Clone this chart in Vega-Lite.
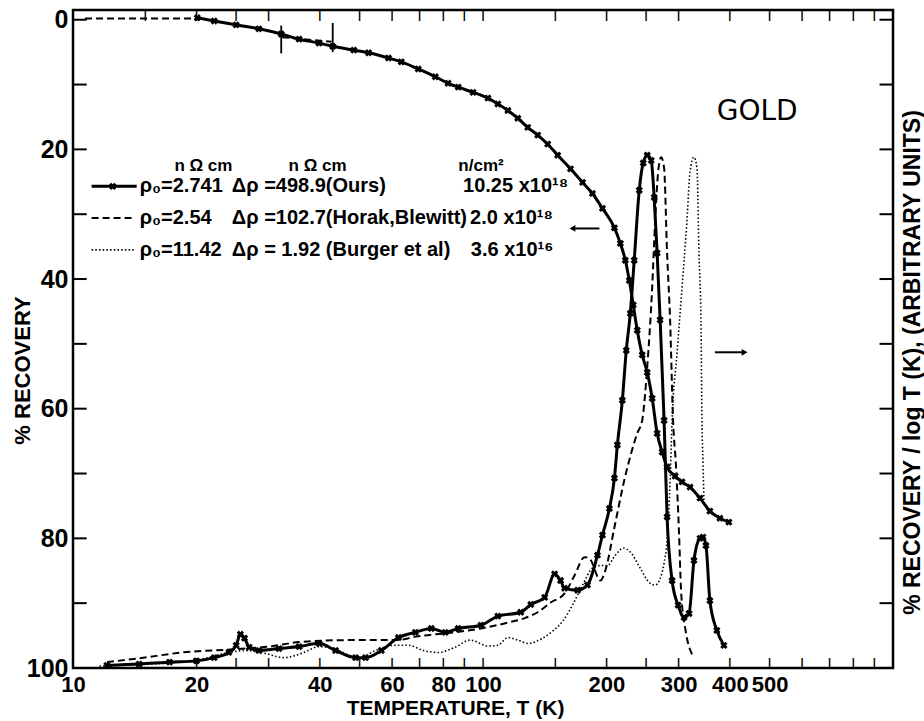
{
  "$schema": "https://vega.github.io/schema/vega-lite/v6.json",
  "width": 820,
  "height": 658,
  "autosize": {"type": "none"},
  "padding": {"left": 73, "top": 10, "right": 31, "bottom": 53},
  "background": "white",
  "config": {
    "view": {"stroke": "black", "strokeWidth": 2.5},
    "font": "Liberation Sans",
    "axis": {
      "grid": false,
      "domain": false,
      "ticks": false,
      "labelColor": "black",
      "titleColor": "black",
      "labelFont": "Liberation Sans",
      "labelFontWeight": "bold",
      "titleFont": "Liberation Sans",
      "titleFontWeight": "bold",
      "labelOverlap": false,
      "labelBound": false,
      "labelFlush": false
    }
  },
  "datasets": {
    "curves": [
      {"curve": "rec_ours", "source": "Ours", "T": 20.1, "pct": -0.3},
      {"curve": "rec_ours", "source": "Ours", "T": 22.1, "pct": 0.2},
      {"curve": "rec_ours", "source": "Ours", "T": 25.0, "pct": 0.8},
      {"curve": "rec_ours", "source": "Ours", "T": 28.4, "pct": 1.4},
      {"curve": "rec_ours", "source": "Ours", "T": 32.2, "pct": 2.2},
      {"curve": "rec_ours", "source": "Ours", "T": 35.6, "pct": 3.0},
      {"curve": "rec_ours", "source": "Ours", "T": 39.8, "pct": 3.6},
      {"curve": "rec_ours", "source": "Ours", "T": 43.0, "pct": 4.1},
      {"curve": "rec_ours", "source": "Ours", "T": 48.4, "pct": 4.7},
      {"curve": "rec_ours", "source": "Ours", "T": 52.6, "pct": 5.1},
      {"curve": "rec_ours", "source": "Ours", "T": 58.8, "pct": 5.9},
      {"curve": "rec_ours", "source": "Ours", "T": 63.2, "pct": 6.5},
      {"curve": "rec_ours", "source": "Ours", "T": 69.5, "pct": 7.6},
      {"curve": "rec_ours", "source": "Ours", "T": 76.5, "pct": 8.8},
      {"curve": "rec_ours", "source": "Ours", "T": 82.2, "pct": 9.8},
      {"curve": "rec_ours", "source": "Ours", "T": 87.0, "pct": 10.4},
      {"curve": "rec_ours", "source": "Ours", "T": 94.6, "pct": 11.2},
      {"curve": "rec_ours", "source": "Ours", "T": 102.8, "pct": 12.1},
      {"curve": "rec_ours", "source": "Ours", "T": 108.7, "pct": 13.0},
      {"curve": "rec_ours", "source": "Ours", "T": 115.0, "pct": 14.0},
      {"curve": "rec_ours", "source": "Ours", "T": 121.6, "pct": 15.2},
      {"curve": "rec_ours", "source": "Ours", "T": 128.6, "pct": 16.6},
      {"curve": "rec_ours", "source": "Ours", "T": 136.0, "pct": 17.8},
      {"curve": "rec_ours", "source": "Ours", "T": 143.8, "pct": 19.2},
      {"curve": "rec_ours", "source": "Ours", "T": 152.1, "pct": 20.9},
      {"curve": "rec_ours", "source": "Ours", "T": 163.5, "pct": 23.0},
      {"curve": "rec_ours", "source": "Ours", "T": 174.9, "pct": 25.1},
      {"curve": "rec_ours", "source": "Ours", "T": 184.9, "pct": 26.8},
      {"curve": "rec_ours", "source": "Ours", "T": 195.6, "pct": 29.1},
      {"curve": "rec_ours", "source": "Ours", "T": 209.2, "pct": 32.1},
      {"curve": "rec_ours", "source": "Ours", "T": 216.3, "pct": 34.5},
      {"curve": "rec_ours", "source": "Ours", "T": 222.4, "pct": 37.1},
      {"curve": "rec_ours", "source": "Ours", "T": 227.4, "pct": 40.2},
      {"curve": "rec_ours", "source": "Ours", "T": 232.5, "pct": 44.0},
      {"curve": "rec_ours", "source": "Ours", "T": 237.8, "pct": 47.9},
      {"curve": "rec_ours", "source": "Ours", "T": 244.5, "pct": 51.7},
      {"curve": "rec_ours", "source": "Ours", "T": 251.5, "pct": 54.4},
      {"curve": "rec_ours", "source": "Ours", "T": 258.6, "pct": 58.4},
      {"curve": "rec_ours", "source": "Ours", "T": 265.9, "pct": 63.8},
      {"curve": "rec_ours", "source": "Ours", "T": 273.5, "pct": 66.7},
      {"curve": "rec_ours", "source": "Ours", "T": 281.2, "pct": 69.0},
      {"curve": "rec_ours", "source": "Ours", "T": 294.1, "pct": 70.4},
      {"curve": "rec_ours", "source": "Ours", "T": 305.8, "pct": 71.3},
      {"curve": "rec_ours", "source": "Ours", "T": 319.8, "pct": 72.1},
      {"curve": "rec_ours", "source": "Ours", "T": 338.2, "pct": 73.8},
      {"curve": "rec_ours", "source": "Ours", "T": 357.6, "pct": 75.8},
      {"curve": "rec_ours", "source": "Ours", "T": 378.3, "pct": 76.9},
      {"curve": "rec_ours", "source": "Ours", "T": 397.8, "pct": 77.5},

      {"curve": "rate_ours", "source": "Ours", "T": 12.1, "pct": 99.6},
      {"curve": "rate_ours", "source": "Ours", "T": 14.5, "pct": 99.4},
      {"curve": "rate_ours", "source": "Ours", "T": 17.2, "pct": 99.1},
      {"curve": "rate_ours", "source": "Ours", "T": 20.0, "pct": 98.9},
      {"curve": "rate_ours", "source": "Ours", "T": 22.1, "pct": 98.4},
      {"curve": "rate_ours", "source": "Ours", "T": 24.0, "pct": 97.6},
      {"curve": "rate_ours", "source": "Ours", "T": 25.0, "pct": 96.5},
      {"curve": "rate_ours", "source": "Ours", "T": 25.6, "pct": 94.8},
      {"curve": "rate_ours", "source": "Ours", "T": 26.2, "pct": 95.4},
      {"curve": "rate_ours", "source": "Ours", "T": 26.9, "pct": 96.8},
      {"curve": "rate_ours", "source": "Ours", "T": 28.4, "pct": 97.3},
      {"curve": "rate_ours", "source": "Ours", "T": 31.8, "pct": 97.0},
      {"curve": "rate_ours", "source": "Ours", "T": 35.6, "pct": 96.7},
      {"curve": "rate_ours", "source": "Ours", "T": 39.8, "pct": 96.2},
      {"curve": "rate_ours", "source": "Ours", "T": 43.7, "pct": 97.3},
      {"curve": "rate_ours", "source": "Ours", "T": 48.9, "pct": 98.4},
      {"curve": "rate_ours", "source": "Ours", "T": 51.7, "pct": 98.4},
      {"curve": "rate_ours", "source": "Ours", "T": 56.5, "pct": 97.3},
      {"curve": "rate_ours", "source": "Ours", "T": 62.2, "pct": 95.3},
      {"curve": "rate_ours", "source": "Ours", "T": 68.4, "pct": 94.5},
      {"curve": "rate_ours", "source": "Ours", "T": 74.8, "pct": 93.9},
      {"curve": "rate_ours", "source": "Ours", "T": 80.9, "pct": 94.5},
      {"curve": "rate_ours", "source": "Ours", "T": 87.0, "pct": 93.9},
      {"curve": "rate_ours", "source": "Ours", "T": 98.9, "pct": 93.4},
      {"curve": "rate_ours", "source": "Ours", "T": 108.7, "pct": 92.0},
      {"curve": "rate_ours", "source": "Ours", "T": 123.6, "pct": 91.4},
      {"curve": "rate_ours", "source": "Ours", "T": 130.8, "pct": 90.2},
      {"curve": "rate_ours", "source": "Ours", "T": 141.4, "pct": 89.1},
      {"curve": "rate_ours", "source": "Ours", "T": 149.5, "pct": 85.5},
      {"curve": "rate_ours", "source": "Ours", "T": 154.6, "pct": 86.5},
      {"curve": "rate_ours", "source": "Ours", "T": 158.1, "pct": 87.7},
      {"curve": "rate_ours", "source": "Ours", "T": 170.1, "pct": 88.0},
      {"curve": "rate_ours", "source": "Ours", "T": 179.8, "pct": 87.2},
      {"curve": "rate_ours", "source": "Ours", "T": 190.2, "pct": 82.6},
      {"curve": "rate_ours", "source": "Ours", "T": 195.6, "pct": 79.5},
      {"curve": "rate_ours", "source": "Ours", "T": 203.4, "pct": 75.4},
      {"curve": "rate_ours", "source": "Ours", "T": 209.2, "pct": 70.7},
      {"curve": "rate_ours", "source": "Ours", "T": 212.7, "pct": 65.6},
      {"curve": "rate_ours", "source": "Ours", "T": 218.7, "pct": 58.7},
      {"curve": "rate_ours", "source": "Ours", "T": 223.6, "pct": 51.0},
      {"curve": "rate_ours", "source": "Ours", "T": 228.7, "pct": 45.3},
      {"curve": "rate_ours", "source": "Ours", "T": 233.8, "pct": 37.1},
      {"curve": "rate_ours", "source": "Ours", "T": 240.5, "pct": 26.3},
      {"curve": "rate_ours", "source": "Ours", "T": 245.9, "pct": 22.1},
      {"curve": "rate_ours", "source": "Ours", "T": 251.5, "pct": 20.9},
      {"curve": "rate_ours", "source": "Ours", "T": 257.2, "pct": 21.7},
      {"curve": "rate_ours", "source": "Ours", "T": 261.5, "pct": 27.4},
      {"curve": "rate_ours", "source": "Ours", "T": 265.9, "pct": 36.0},
      {"curve": "rate_ours", "source": "Ours", "T": 270.4, "pct": 46.3},
      {"curve": "rate_ours", "source": "Ours", "T": 276.5, "pct": 61.8},
      {"curve": "rate_ours", "source": "Ours", "T": 281.2, "pct": 76.7},
      {"curve": "rate_ours", "source": "Ours", "T": 289.2, "pct": 86.5},
      {"curve": "rate_ours", "source": "Ours", "T": 299.1, "pct": 90.3},
      {"curve": "rate_ours", "source": "Ours", "T": 309.3, "pct": 92.2},
      {"curve": "rate_ours", "source": "Ours", "T": 318.1, "pct": 91.6},
      {"curve": "rate_ours", "source": "Ours", "T": 327.0, "pct": 83.4},
      {"curve": "rate_ours", "source": "Ours", "T": 338.2, "pct": 80.0},
      {"curve": "rate_ours", "source": "Ours", "T": 343.9, "pct": 79.8},
      {"curve": "rate_ours", "source": "Ours", "T": 349.8, "pct": 81.1},
      {"curve": "rate_ours", "source": "Ours", "T": 357.6, "pct": 89.6},
      {"curve": "rate_ours", "source": "Ours", "T": 371.9, "pct": 94.2},
      {"curve": "rate_ours", "source": "Ours", "T": 386.8, "pct": 96.5},

      {"curve": "leg_ours", "source": "Ours", "T": 11.1, "pct": 25.7},
      {"curve": "leg_ours", "source": "Ours", "T": 12.5, "pct": 25.7},
      {"curve": "leg_ours", "source": "Ours", "T": 14.3, "pct": 25.7},

      {"curve": "rec_horak_a", "source": "Horak", "T": 10.7, "pct": -0.2},
      {"curve": "rec_horak_a", "source": "Horak", "T": 20.0, "pct": -0.2},
      {"curve": "rec_horak_b", "source": "Horak", "T": 32.4, "pct": 2.7},
      {"curve": "rec_horak_b", "source": "Horak", "T": 42.7, "pct": 3.4},

      {"curve": "rate_horak", "source": "Horak", "T": 12.1, "pct": 99.1},
      {"curve": "rate_horak", "source": "Horak", "T": 14.5, "pct": 98.5},
      {"curve": "rate_horak", "source": "Horak", "T": 18.5, "pct": 97.6},
      {"curve": "rate_horak", "source": "Horak", "T": 25.0, "pct": 97.1},
      {"curve": "rate_horak", "source": "Horak", "T": 30.1, "pct": 96.7},
      {"curve": "rate_horak", "source": "Horak", "T": 35.6, "pct": 96.0},
      {"curve": "rate_horak", "source": "Horak", "T": 47.0, "pct": 95.7},
      {"curve": "rate_horak", "source": "Horak", "T": 61.2, "pct": 95.7},
      {"curve": "rate_horak", "source": "Horak", "T": 69.5, "pct": 95.1},
      {"curve": "rate_horak", "source": "Horak", "T": 82.2, "pct": 94.6},
      {"curve": "rate_horak", "source": "Horak", "T": 98.9, "pct": 93.9},
      {"curve": "rate_horak", "source": "Horak", "T": 115.0, "pct": 93.0},
      {"curve": "rate_horak", "source": "Horak", "T": 126.5, "pct": 92.3},
      {"curve": "rate_horak", "source": "Horak", "T": 136.0, "pct": 91.4},
      {"curve": "rate_horak", "source": "Horak", "T": 146.2, "pct": 89.9},
      {"curve": "rate_horak", "source": "Horak", "T": 158.1, "pct": 88.5},
      {"curve": "rate_horak", "source": "Horak", "T": 167.3, "pct": 85.7},
      {"curve": "rate_horak", "source": "Horak", "T": 176.9, "pct": 82.9},
      {"curve": "rate_horak", "source": "Horak", "T": 181.8, "pct": 83.1},
      {"curve": "rate_horak", "source": "Horak", "T": 193.4, "pct": 86.5},
      {"curve": "rate_horak", "source": "Horak", "T": 198.9, "pct": 84.9},
      {"curve": "rate_horak", "source": "Horak", "T": 209.2, "pct": 78.3},
      {"curve": "rate_horak", "source": "Horak", "T": 221.2, "pct": 71.0},
      {"curve": "rate_horak", "source": "Horak", "T": 237.8, "pct": 63.8},
      {"curve": "rate_horak", "source": "Horak", "T": 244.5, "pct": 61.8},
      {"curve": "rate_horak", "source": "Horak", "T": 251.5, "pct": 53.6},
      {"curve": "rate_horak", "source": "Horak", "T": 258.6, "pct": 41.3},
      {"curve": "rate_horak", "source": "Horak", "T": 263.0, "pct": 30.9},
      {"curve": "rate_horak", "source": "Horak", "T": 267.4, "pct": 23.5},
      {"curve": "rate_horak", "source": "Horak", "T": 271.9, "pct": 21.2},
      {"curve": "rate_horak", "source": "Horak", "T": 276.5, "pct": 22.9},
      {"curve": "rate_horak", "source": "Horak", "T": 281.2, "pct": 36.0},
      {"curve": "rate_horak", "source": "Horak", "T": 286.0, "pct": 46.4},
      {"curve": "rate_horak", "source": "Horak", "T": 290.8, "pct": 61.8},
      {"curve": "rate_horak", "source": "Horak", "T": 295.7, "pct": 69.0},
      {"curve": "rate_horak", "source": "Horak", "T": 300.7, "pct": 79.2},
      {"curve": "rate_horak", "source": "Horak", "T": 304.1, "pct": 88.0},
      {"curve": "rate_horak", "source": "Horak", "T": 311.0, "pct": 93.7},
      {"curve": "rate_horak", "source": "Horak", "T": 327.0, "pct": 98.4},

      {"curve": "leg_horak", "source": "Horak", "T": 11.1, "pct": 30.6},
      {"curve": "leg_horak", "source": "Horak", "T": 14.1, "pct": 30.6},

      {"curve": "rate_burger", "source": "Burger", "T": 11.6, "pct": 99.7},
      {"curve": "rate_burger", "source": "Burger", "T": 15.4, "pct": 99.4},
      {"curve": "rate_burger", "source": "Burger", "T": 20.0, "pct": 98.8},
      {"curve": "rate_burger", "source": "Burger", "T": 24.0, "pct": 97.6},
      {"curve": "rate_burger", "source": "Burger", "T": 26.2, "pct": 97.3},
      {"curve": "rate_burger", "source": "Burger", "T": 29.2, "pct": 97.7},
      {"curve": "rate_burger", "source": "Burger", "T": 32.7, "pct": 98.4},
      {"curve": "rate_burger", "source": "Burger", "T": 36.6, "pct": 97.6},
      {"curve": "rate_burger", "source": "Burger", "T": 39.8, "pct": 96.7},
      {"curve": "rate_burger", "source": "Burger", "T": 43.2, "pct": 97.0},
      {"curve": "rate_burger", "source": "Burger", "T": 47.0, "pct": 98.0},
      {"curve": "rate_burger", "source": "Burger", "T": 49.7, "pct": 98.5},
      {"curve": "rate_burger", "source": "Burger", "T": 54.7, "pct": 97.3},
      {"curve": "rate_burger", "source": "Burger", "T": 60.5, "pct": 96.5},
      {"curve": "rate_burger", "source": "Burger", "T": 65.8, "pct": 96.5},
      {"curve": "rate_burger", "source": "Burger", "T": 71.5, "pct": 97.3},
      {"curve": "rate_burger", "source": "Burger", "T": 77.8, "pct": 97.6},
      {"curve": "rate_burger", "source": "Burger", "T": 85.5, "pct": 96.8},
      {"curve": "rate_burger", "source": "Burger", "T": 93.0, "pct": 95.7},
      {"curve": "rate_burger", "source": "Burger", "T": 102.8, "pct": 96.6},
      {"curve": "rate_burger", "source": "Burger", "T": 108.7, "pct": 96.5},
      {"curve": "rate_burger", "source": "Burger", "T": 115.0, "pct": 95.3},
      {"curve": "rate_burger", "source": "Burger", "T": 121.6, "pct": 95.7},
      {"curve": "rate_burger", "source": "Burger", "T": 128.6, "pct": 96.2},
      {"curve": "rate_burger", "source": "Burger", "T": 139.8, "pct": 95.4},
      {"curve": "rate_burger", "source": "Burger", "T": 147.9, "pct": 94.3},
      {"curve": "rate_burger", "source": "Burger", "T": 156.4, "pct": 92.8},
      {"curve": "rate_burger", "source": "Burger", "T": 165.3, "pct": 90.3},
      {"curve": "rate_burger", "source": "Burger", "T": 174.9, "pct": 87.2},
      {"curve": "rate_burger", "source": "Burger", "T": 184.9, "pct": 84.6},
      {"curve": "rate_burger", "source": "Burger", "T": 193.4, "pct": 84.2},
      {"curve": "rate_burger", "source": "Burger", "T": 201.1, "pct": 84.2},
      {"curve": "rate_burger", "source": "Burger", "T": 210.3, "pct": 82.6},
      {"curve": "rate_burger", "source": "Burger", "T": 219.9, "pct": 81.5},
      {"curve": "rate_burger", "source": "Burger", "T": 228.7, "pct": 82.1},
      {"curve": "rate_burger", "source": "Burger", "T": 241.8, "pct": 84.6},
      {"curve": "rate_burger", "source": "Burger", "T": 254.3, "pct": 86.8},
      {"curve": "rate_burger", "source": "Burger", "T": 263.0, "pct": 87.2},
      {"curve": "rate_burger", "source": "Burger", "T": 270.4, "pct": 86.2},
      {"curve": "rate_burger", "source": "Burger", "T": 276.5, "pct": 83.8},
      {"curve": "rate_burger", "source": "Burger", "T": 281.2, "pct": 80.3},
      {"curve": "rate_burger", "source": "Burger", "T": 286.0, "pct": 71.0},
      {"curve": "rate_burger", "source": "Burger", "T": 289.2, "pct": 61.8},
      {"curve": "rate_burger", "source": "Burger", "T": 297.4, "pct": 51.4},
      {"curve": "rate_burger", "source": "Burger", "T": 305.8, "pct": 41.3},
      {"curve": "rate_burger", "source": "Burger", "T": 314.5, "pct": 30.9},
      {"curve": "rate_burger", "source": "Burger", "T": 319.8, "pct": 23.5},
      {"curve": "rate_burger", "source": "Burger", "T": 327.0, "pct": 21.2},
      {"curve": "rate_burger", "source": "Burger", "T": 332.6, "pct": 22.9},
      {"curve": "rate_burger", "source": "Burger", "T": 336.3, "pct": 36.0},
      {"curve": "rate_burger", "source": "Burger", "T": 340.1, "pct": 46.4},
      {"curve": "rate_burger", "source": "Burger", "T": 342.0, "pct": 61.8},
      {"curve": "rate_burger", "source": "Burger", "T": 343.9, "pct": 68.0},
      {"curve": "rate_burger", "source": "Burger", "T": 345.8, "pct": 74.1},

      {"curve": "leg_burger", "source": "Burger", "T": 11.1, "pct": 35.5},
      {"curve": "leg_burger", "source": "Burger", "T": 14.1, "pct": 35.5}
    ],
    "errorbars": [
      {"T": 32.2, "lo": 0.9, "hi": 5.2},
      {"T": 43.0, "lo": 0.5, "hi": 5.0}
    ],
    "xtickmarks": [
      {"T": 20, "edge": 100}, {"T": 25, "edge": 100}, {"T": 30, "edge": 100}, {"T": 40, "edge": 100},
      {"T": 50, "edge": 100}, {"T": 60, "edge": 100}, {"T": 70, "edge": 100}, {"T": 80, "edge": 100},
      {"T": 90, "edge": 100}, {"T": 100, "edge": 100}, {"T": 150, "edge": 100}, {"T": 200, "edge": 100},
      {"T": 250, "edge": 100}, {"T": 300, "edge": 100}, {"T": 400, "edge": 100}, {"T": 500, "edge": 100},
      {"T": 600, "edge": 100}, {"T": 700, "edge": 100}, {"T": 800, "edge": 100}, {"T": 900, "edge": 100},
      {"T": 15, "edge": -1.5}, {"T": 20, "edge": -1.5}, {"T": 25, "edge": -1.5}, {"T": 30, "edge": -1.5},
      {"T": 40, "edge": -1.5}, {"T": 50, "edge": -1.5}, {"T": 60, "edge": -1.5}, {"T": 70, "edge": -1.5},
      {"T": 80, "edge": -1.5}, {"T": 90, "edge": -1.5}, {"T": 100, "edge": -1.5}, {"T": 150, "edge": -1.5},
      {"T": 200, "edge": -1.5}, {"T": 250, "edge": -1.5}, {"T": 300, "edge": -1.5}, {"T": 400, "edge": -1.5},
      {"T": 500, "edge": -1.5}, {"T": 600, "edge": -1.5}, {"T": 700, "edge": -1.5}, {"T": 800, "edge": -1.5},
      {"T": 900, "edge": -1.5}
    ],
    "arrows": [
      {"T1": 165.3, "T2": 192.3, "tip": 165.3, "pct": 32.2, "head": "left"},
      {"T1": 367.8, "T2": 434.5, "tip": 434.5, "pct": 51.3, "head": "right"}
    ],
    "yticks": [
      {"pct": 0, "edge": 10, "inner": 10.8}, {"pct": 10, "edge": 10, "inner": 10.8}, {"pct": 20, "edge": 10, "inner": 10.8},
      {"pct": 30, "edge": 10, "inner": 10.8}, {"pct": 40, "edge": 10, "inner": 10.8}, {"pct": 50, "edge": 10, "inner": 10.8},
      {"pct": 60, "edge": 10, "inner": 10.8}, {"pct": 70, "edge": 10, "inner": 10.8}, {"pct": 80, "edge": 10, "inner": 10.8},
      {"pct": 90, "edge": 10, "inner": 10.8},
      {"pct": 0, "edge": 1000, "inner": 927}, {"pct": 10, "edge": 1000, "inner": 927}, {"pct": 20, "edge": 1000, "inner": 927},
      {"pct": 30, "edge": 1000, "inner": 927}, {"pct": 40, "edge": 1000, "inner": 927}, {"pct": 50, "edge": 1000, "inner": 927},
      {"pct": 60, "edge": 1000, "inner": 927}, {"pct": 70, "edge": 1000, "inner": 927}, {"pct": 80, "edge": 1000, "inner": 927},
      {"pct": 90, "edge": 1000, "inner": 927}
    ],
    "legendtext": [
      {"T": 14.54, "pct": 25.7, "text": "ρ₀=2.741"},
      {"T": 24.4, "pct": 25.7, "text": "Δρ =498.9(Ours)"},
      {"T": 89.4, "pct": 25.7, "text": "10.25 x10¹⁸"},
      {"T": 14.54, "pct": 30.6, "text": "ρ₀=2.54"},
      {"T": 24.4, "pct": 30.6, "text": "Δρ =102.7(Horak,Blewitt)"},
      {"T": 93.0, "pct": 30.6, "text": "2.0 x10¹⁸"},
      {"T": 14.54, "pct": 35.5, "text": "ρ₀=11.42"},
      {"T": 24.4, "pct": 35.5, "text": "Δρ = 1.92 (Burger et al)"},
      {"T": 93.4, "pct": 35.5, "text": "3.6 x10¹⁶"}
    ],
    "headers": [
      {"T": 20.8, "pct": 22.6, "text": "n Ω cm"},
      {"T": 39.5, "pct": 22.6, "text": "n Ω cm"},
      {"T": 98.9, "pct": 22.6, "text": "n/cm²"}
    ],
    "metal": [
      {"T": 371.5, "pct": 14.2, "text": "GOLD"}
    ]
  },
  "resolve": {"axis": {"x": "independent", "y": "independent"}},
  "layer": [
    {
      "data": {"name": "curves"},
      "transform": [{"filter": "datum.source === 'Ours'"}],
      "mark": {"type": "line", "color": "black", "strokeWidth": 3, "interpolate": "monotone"},
      "encoding": {
        "x": {
          "field": "T", "type": "quantitative",
          "scale": {"type": "log", "domain": [10, 1000], "nice": false},
          "axis": {
            "orient": "bottom",
            "values": [10, 20, 40, 60, 80, 100, 200, 300, 400, 500],
            "labelExpr": "format(datum.value, 'd')",
            "labelPadding": 6,
            "labelFontSize": 22,
            "title": "TEMPERATURE, T (K)",
            "titleFontSize": 21,
            "titleX": 382,
            "titleY": 40,
            "titleBaseline": "middle",
            "titleAlign": "center"
          }
        },
        "y": {
          "field": "pct", "type": "quantitative",
          "scale": {"domain": [-1.5, 100], "reverse": true, "nice": false, "zero": false},
          "axis": {
            "orient": "left",
            "values": [0, 20, 40, 60, 80, 100],
            "labelPadding": 5,
            "labelFontSize": 25,
            "title": "% RECOVERY",
            "titleFontSize": 22,
            "titleAngle": 270,
            "titleX": -51,
            "titleY": 360,
            "titleBaseline": "middle",
            "titleAlign": "center"
          }
        },
        "detail": {"field": "curve", "type": "nominal"}
      }
    },
    {
      "data": {"name": "curves"},
      "transform": [{"filter": "datum.source === 'Horak'"}],
      "mark": {"type": "line", "color": "black", "strokeWidth": 2, "strokeDash": [7, 4], "interpolate": "monotone"},
      "encoding": {
        "x": {"field": "T", "type": "quantitative", "scale": {"type": "log", "domain": [10, 1000], "nice": false}, "axis": null},
        "y": {
          "field": "pct", "type": "quantitative",
          "scale": {"domain": [-1.5, 100], "reverse": true, "nice": false, "zero": false},
          "axis": {
            "orient": "right",
            "values": [50],
            "labels": false,
            "title": "% RECOVERY / log T (K), (ARBITRARY UNITS)",
            "titleFontSize": 23,
            "titleAngle": 270,
            "titleX": 19,
            "titleY": 352,
            "titleBaseline": "middle",
            "titleAlign": "center"
          }
        },
        "detail": {"field": "curve", "type": "nominal"}
      }
    },
    {
      "data": {"name": "curves"},
      "transform": [{"filter": "datum.source === 'Burger'"}],
      "mark": {"type": "line", "color": "black", "strokeWidth": 1.6, "strokeDash": [1.5, 2.2], "interpolate": "monotone"},
      "encoding": {
        "x": {"field": "T", "type": "quantitative", "scale": {"type": "log", "domain": [10, 1000], "nice": false}, "axis": null},
        "y": {"field": "pct", "type": "quantitative", "scale": {"domain": [-1.5, 100], "reverse": true, "nice": false, "zero": false}, "axis": null},
        "detail": {"field": "curve", "type": "nominal"}
      }
    },
    {
      "data": {"name": "curves"},
      "transform": [{"filter": "datum.source === 'Ours' && (datum.curve !== 'leg_ours' || (datum.T > 12 && datum.T < 13))"}],
      "mark": {"type": "point", "shape": "cross", "angle": 45, "filled": true, "color": "black", "size": 55, "opacity": 1},
      "encoding": {
        "x": {"field": "T", "type": "quantitative", "scale": {"type": "log", "domain": [10, 1000], "nice": false}, "axis": null},
        "y": {"field": "pct", "type": "quantitative", "scale": {"domain": [-1.5, 100], "reverse": true, "nice": false, "zero": false}, "axis": null}
      }
    },
    {
      "data": {"name": "xtickmarks"},
      "transform": [{"filter": "datum.edge > 50"}],
      "mark": {"type": "text", "text": "|", "align": "center", "baseline": "bottom", "font": "Liberation Sans", "fontWeight": "bold", "fontSize": 11, "color": "black"},
      "encoding": {
        "x": {"field": "T", "type": "quantitative", "scale": {"type": "log", "domain": [10, 1000], "nice": false}, "axis": null},
        "y": {"field": "edge", "type": "quantitative", "scale": {"domain": [-1.5, 100], "reverse": true, "nice": false, "zero": false}, "axis": null}
      }
    },
    {
      "data": {"name": "xtickmarks"},
      "transform": [{"filter": "datum.edge < 50"}],
      "mark": {"type": "text", "text": "|", "align": "center", "baseline": "top", "font": "Liberation Sans", "fontWeight": "bold", "fontSize": 11, "color": "black"},
      "encoding": {
        "x": {"field": "T", "type": "quantitative", "scale": {"type": "log", "domain": [10, 1000], "nice": false}, "axis": null},
        "y": {"field": "edge", "type": "quantitative", "scale": {"domain": [-1.5, 100], "reverse": true, "nice": false, "zero": false}, "axis": null}
      }
    },
    {
      "data": {"name": "errorbars"},
      "mark": {"type": "rule", "color": "black", "strokeWidth": 1.8},
      "encoding": {
        "x": {"field": "T", "type": "quantitative", "scale": {"type": "log", "domain": [10, 1000], "nice": false}, "axis": null},
        "y": {"field": "lo", "type": "quantitative", "scale": {"domain": [-1.5, 100], "reverse": true, "nice": false, "zero": false}, "axis": null},
        "y2": {"field": "hi"}
      }
    },
    {
      "data": {"name": "yticks"},
      "mark": {"type": "rule", "color": "black", "strokeWidth": 2},
      "encoding": {
        "y": {"field": "pct", "type": "quantitative", "scale": {"domain": [-1.5, 100], "reverse": true, "nice": false, "zero": false}, "axis": null},
        "x": {"field": "edge", "type": "quantitative", "scale": {"type": "log", "domain": [10, 1000], "nice": false}, "axis": null},
        "x2": {"field": "inner"}
      }
    },
    {
      "data": {"name": "arrows"},
      "mark": {"type": "rule", "color": "black", "strokeWidth": 2},
      "encoding": {
        "x": {"field": "T1", "type": "quantitative", "scale": {"type": "log", "domain": [10, 1000], "nice": false}, "axis": null},
        "x2": {"field": "T2"},
        "y": {"field": "pct", "type": "quantitative", "scale": {"domain": [-1.5, 100], "reverse": true, "nice": false, "zero": false}, "axis": null}
      }
    },
    {
      "data": {"name": "arrows"},
      "mark": {"type": "point", "filled": true, "color": "black", "size": 45, "opacity": 1},
      "encoding": {
        "x": {"field": "tip", "type": "quantitative", "scale": {"type": "log", "domain": [10, 1000], "nice": false}, "axis": null},
        "y": {"field": "pct", "type": "quantitative", "scale": {"domain": [-1.5, 100], "reverse": true, "nice": false, "zero": false}, "axis": null},
        "shape": {"field": "head", "type": "nominal", "scale": {"domain": ["left", "right"], "range": ["triangle-left", "triangle-right"]}, "legend": null}
      }
    },
    {
      "data": {"name": "legendtext"},
      "mark": {"type": "text", "align": "left", "baseline": "middle", "font": "Liberation Sans", "fontWeight": "bold", "fontSize": 20, "color": "black"},
      "encoding": {
        "x": {"field": "T", "type": "quantitative", "scale": {"type": "log", "domain": [10, 1000], "nice": false}, "axis": null},
        "y": {"field": "pct", "type": "quantitative", "scale": {"domain": [-1.5, 100], "reverse": true, "nice": false, "zero": false}, "axis": null},
        "text": {"field": "text"}
      }
    },
    {
      "data": {"name": "headers"},
      "mark": {"type": "text", "align": "center", "baseline": "middle", "font": "Liberation Sans", "fontWeight": "bold", "fontSize": 17, "color": "black"},
      "encoding": {
        "x": {"field": "T", "type": "quantitative", "scale": {"type": "log", "domain": [10, 1000], "nice": false}, "axis": null},
        "y": {"field": "pct", "type": "quantitative", "scale": {"domain": [-1.5, 100], "reverse": true, "nice": false, "zero": false}, "axis": null},
        "text": {"field": "text"}
      }
    },
    {
      "data": {"name": "metal"},
      "mark": {"type": "text", "align": "left", "baseline": "middle", "font": "DejaVu Sans", "fontSize": 28, "color": "black"},
      "encoding": {
        "x": {"field": "T", "type": "quantitative", "scale": {"type": "log", "domain": [10, 1000], "nice": false}, "axis": null},
        "y": {"field": "pct", "type": "quantitative", "scale": {"domain": [-1.5, 100], "reverse": true, "nice": false, "zero": false}, "axis": null},
        "text": {"field": "text"}
      }
    }
  ]
}
